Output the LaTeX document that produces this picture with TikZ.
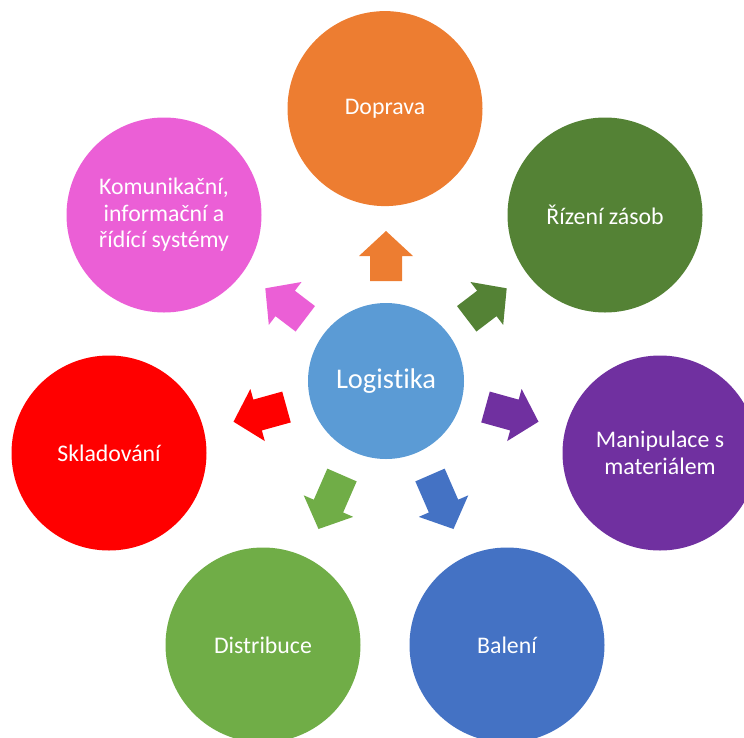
\documentclass[tikz,border=0pt]{standalone}
\usepackage{fontspec}
\setmainfont{Carlito}[Ligatures={NoCommon},RawFeature={-calt}]
\usetikzlibrary{calc}
\definecolor{cLog}{HTML}{5B9BD5}
\definecolor{cDop}{HTML}{ED7D31}
\definecolor{cRiz}{HTML}{548235}
\definecolor{cMan}{HTML}{7030A0}
\definecolor{cBal}{HTML}{4472C4}
\definecolor{cDis}{HTML}{70AD47}
\definecolor{cSkl}{HTML}{FF0000}
\definecolor{cKom}{HTML}{EB5FD6}
\newcommand{\blkarrow}[3]{%
  \coordinate (#1h) at ($(#2)!25pt!(#1)$);
  \fill[#3] ($(#1)!16pt!90:(#2)$) -- ($(#1h)!16pt!90:(#2)$) -- ($(#1h)!27pt!90:(#2)$)
    -- (#2) -- ($(#1h)!27pt!-90:(#2)$) -- ($(#1h)!16pt!-90:(#2)$) -- ($(#1)!16pt!-90:(#2)$) -- cycle;}
\begin{document}
\begin{tikzpicture}[x=1pt,y=-1pt,
  bubble/.style={circle, inner sep=0pt, minimum size=195pt, text=white, align=center,
    font=\fontsize{23.8}{26.6}\selectfont},
  hub/.style={circle, inner sep=0pt, minimum size=156pt, fill=cLog, text=white,
    font=\fontsize{28.5}{32}\selectfont}]
\useasboundingbox (0,0) rectangle (744,737);
\clip (0,0) rectangle (744,737);
% centre
\node[hub] (log) at (386,381) {Logist\kern0pt ika};
% outer circles
\node[bubble, fill=cDop] (dop) at (385,108.6) {Doprava};
\node[bubble, fill=cRiz] (riz) at (605,215) {Řízení zásob};
\node[bubble, fill=cMan] (man) at (660,453) {Manipulace s\\materiálem};
\node[bubble, fill=cBal] (bal) at (507,645) {Balení};
\node[bubble, fill=cDis] (dis) at (263,645) {Distribuce};
\node[bubble, fill=cSkl] (skl) at (109,453) {Skladování};
\node[bubble, fill=cKom] (kom) at (164,215) {Komunikační,\\informační a\\řídící systémy};
% arrow anchor points (shaft end, tip)
\coordinate (Sa) at (386,281);     \coordinate (Ta) at (386,231);
\coordinate (Sb) at (466.7,318.8); \coordinate (Tb) at (506.7,288.3);
\coordinate (Sc) at (485.5,407);   \coordinate (Tc) at (538.5,421.7);
\coordinate (Sd) at (430,475);     \coordinate (Td) at (453.5,529);
\coordinate (Se) at (342,475);     \coordinate (Te) at (318.5,529);
\coordinate (Sf) at (286.5,407);   \coordinate (Tf) at (233.5,421.7);
\coordinate (Sg) at (305.3,318.8); \coordinate (Tg) at (265.3,288.3);
\blkarrow{Sa}{Ta}{cDop}
\blkarrow{Sb}{Tb}{cRiz}
\blkarrow{Sc}{Tc}{cMan}
\blkarrow{Sd}{Td}{cBal}
\blkarrow{Se}{Te}{cDis}
\blkarrow{Sf}{Tf}{cSkl}
\blkarrow{Sg}{Tg}{cKom}
\end{tikzpicture}
\end{document}
